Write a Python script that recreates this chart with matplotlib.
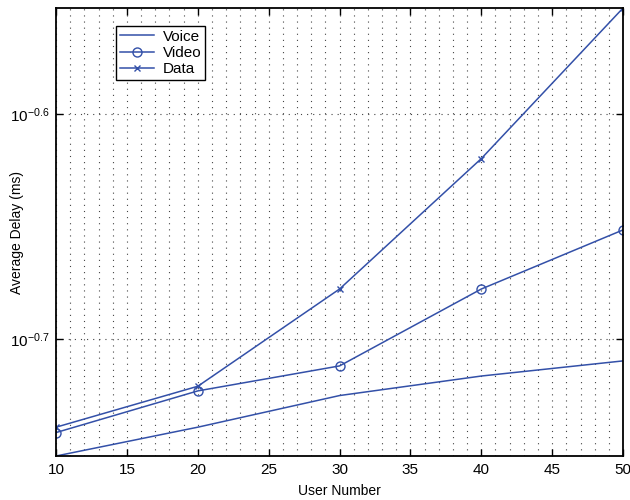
import numpy as np
import matplotlib
matplotlib.use("Agg")
import matplotlib.pyplot as plt
from matplotlib.ticker import FixedLocator, FixedFormatter, NullLocator, MultipleLocator

plt.rcParams["font.family"] = ["Liberation Sans", "DejaVu Sans"]
plt.rcParams["mathtext.fontset"] = "custom"
plt.rcParams["mathtext.rm"] = "Liberation Sans"
plt.rcParams["mathtext.it"] = "Liberation Sans:italic"
plt.rcParams["mathtext.bf"] = "Liberation Sans:bold"

users = [10, 20, 30, 40, 50]
voice = [0.1770, 0.1823, 0.1883, 0.1921, 0.1951]
video = [0.1813, 0.1892, 0.1941, 0.2100, 0.2231]
data = [0.1823, 0.1901, 0.2100, 0.2400, 0.2800]

y_exps = [-0.7, -0.6]
x_ticks = [10, 15, 20, 25, 30, 35, 40, 45, 50]

blue = "#3350a8"
dots = (0, (1, 4.5))

fig = plt.figure(figsize=(6.3, 5), dpi=100)
ax = fig.add_axes([0.089, 0.088, 0.9, 0.896])

ax.plot(users, voice, "-", color=blue, lw=1.1, label="Voice")
ax.plot(users, video, "-o", color=blue, lw=1.1, ms=6.5, mfc="none", mew=1, label="Video")
ax.plot(users, data, "-x", color=blue, lw=1.1, ms=5, mew=1, label="Data")

ax.set_yscale("log")
ax.set_xlim(10, 50)
ax.set_ylim(voice[0], data[-1])

ax.xaxis.set_major_locator(FixedLocator(x_ticks))
ax.xaxis.set_minor_locator(MultipleLocator(1))
ax.yaxis.set_major_locator(FixedLocator([10 ** e for e in y_exps]))
ax.yaxis.set_major_formatter(FixedFormatter([f"$10^{{{e}}}$" for e in y_exps]))
ax.yaxis.set_minor_locator(NullLocator())

ax.grid(True, which="both", axis="x", color="#444444", lw=0.8, linestyle=dots)
ax.grid(True, which="major", axis="y", color="#444444", lw=0.8, linestyle=dots)

ax.tick_params(which="major", direction="in", length=5, width=1, top=True, right=True,
               labelsize=11, pad=5)
ax.tick_params(which="minor", length=0)
for s in ax.spines.values():
    s.set_linewidth(1.3)

ax.set_xlabel("User Number", fontsize=10)
ax.set_ylabel("Average Delay (ms)", fontsize=10)
ax.xaxis.set_label_coords(0.5, -0.062)
ax.yaxis.set_label_coords(-0.057, 0.5)

leg = ax.legend(loc="upper left", bbox_to_anchor=(0.106, 0.96), borderaxespad=0,
                fontsize=11, fancybox=False, framealpha=1, edgecolor="black",
                handlelength=2.2, borderpad=0.25, labelspacing=0.15, handletextpad=0.6)
leg.get_frame().set_linewidth(1)

fig.savefig("out.png", dpi=100)
